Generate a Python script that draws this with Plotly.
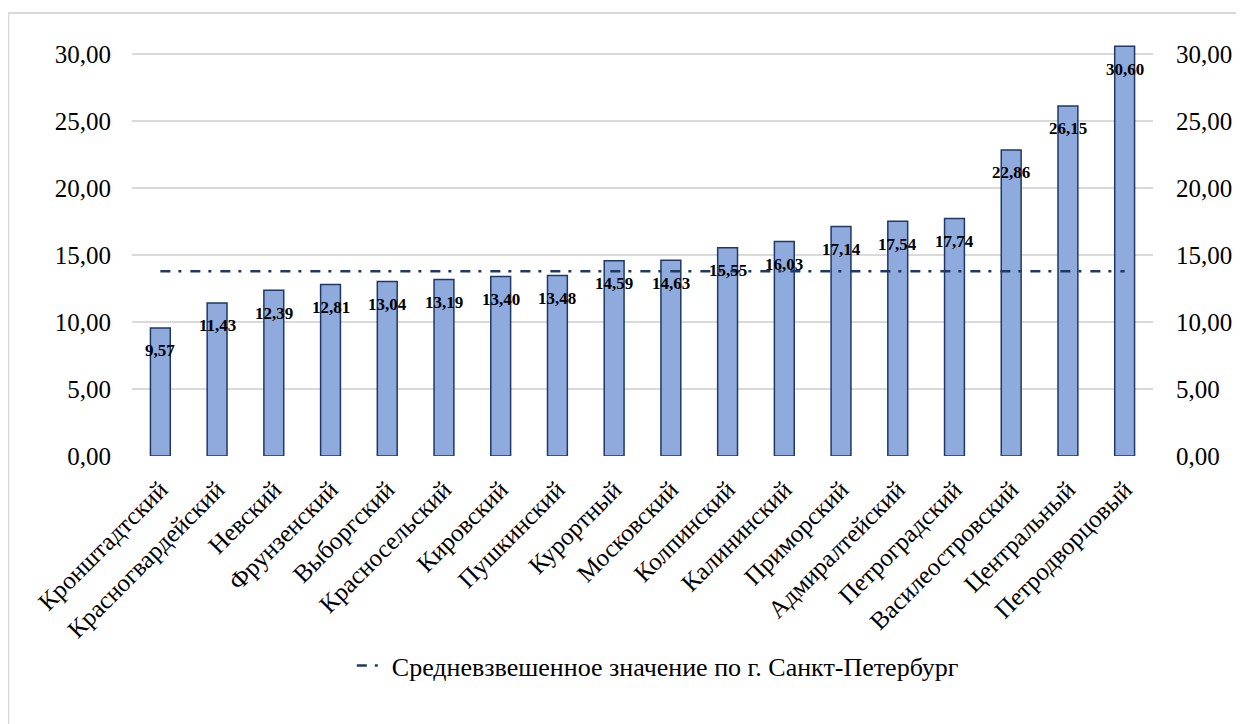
import plotly.graph_objects as go

districts = ["Кронштадтский", "Красногвардейский", "Невский", "Фрунзенский", "Выборгский",
             "Красносельский", "Кировский", "Пушкинский", "Курортный", "Московский",
             "Колпинский", "Калининский", "Приморский", "Адмиралтейский", "Петроградский",
             "Василеостровский", "Центральный", "Петродворцовый"]
values = [9.57, 11.43, 12.39, 12.81, 13.04, 13.19, 13.40, 13.48, 14.59, 14.63,
          15.55, 16.03, 17.14, 17.54, 17.74, 22.86, 26.15, 30.60]
avg_value = 13.80
avg_name = "Средневзвешенное значение по г. Санкт-Петербург"
tick_vals = [0, 5, 10, 15, 20, 25, 30]
tick_text = ["0,00", "5,00", "10,00", "15,00", "20,00", "25,00", "30,00"]

FONT = "Liberation Serif, DejaVu Serif, serif"

fig = go.Figure()
fig.add_trace(go.Bar(
    x=districts, y=values, width=0.35,
    marker=dict(color="#8FAADC", line=dict(color="#1F3864", width=1.5)),
    showlegend=False, hoverinfo="skip",
))
fig.add_trace(go.Scatter(
    x=districts, y=[avg_value] * len(districts), mode="lines", name=avg_name,
    line=dict(color="#1F3864", width=2.5, dash="10px,8px,3px,9px"),
    yaxis="y2",
))

for d, v in zip(districts, values):
    fig.add_annotation(
        x=d, y=v, text=f"{v:.2f}".replace(".", ","), showarrow=False,
        yanchor="middle", yshift=-23,
        font=dict(family=FONT, size=17, color="black", weight="bold"),
    )

fig.add_shape(type="rect", xref="paper", yref="paper",
              x0=-0.1212, x1=1.2, y0=-0.8, y1=1.0675,
              line=dict(color="#D9D9D9", width=2), layer="below")

yax = dict(range=[0, 31], tickvals=tick_vals, ticktext=tick_text,
           tickfont=dict(family=FONT, size=25, color="black"),
           showline=False, zeroline=False, fixedrange=True)

fig.update_layout(
    width=1236, height=716,
    margin=dict(l=124, r=89, t=33, b=268),
    paper_bgcolor="white", plot_bgcolor="white",
    font=dict(family=FONT, color="black"),
    xaxis=dict(tickangle=-45, tickfont=dict(family=FONT, size=25, color="black"),
               showgrid=False, showline=False, ticks="outside", ticklen=8,
               tickcolor="rgba(0,0,0,0)", range=[-0.5, 17.5]),
    yaxis=dict(**yax, showgrid=True, gridcolor="#D9D9D9", gridwidth=1.5,
               ticklabelstandoff=20),
    yaxis2=dict(**yax, overlaying="y", side="right", showgrid=False,
                ticklabelstandoff=22),
    legend=dict(orientation="h", x=0.515, xanchor="center", y=-0.505, yanchor="middle",
                font=dict(family=FONT, size=26, color="black")),
    bargap=0.65,
)

fig.write_html("out.html")
